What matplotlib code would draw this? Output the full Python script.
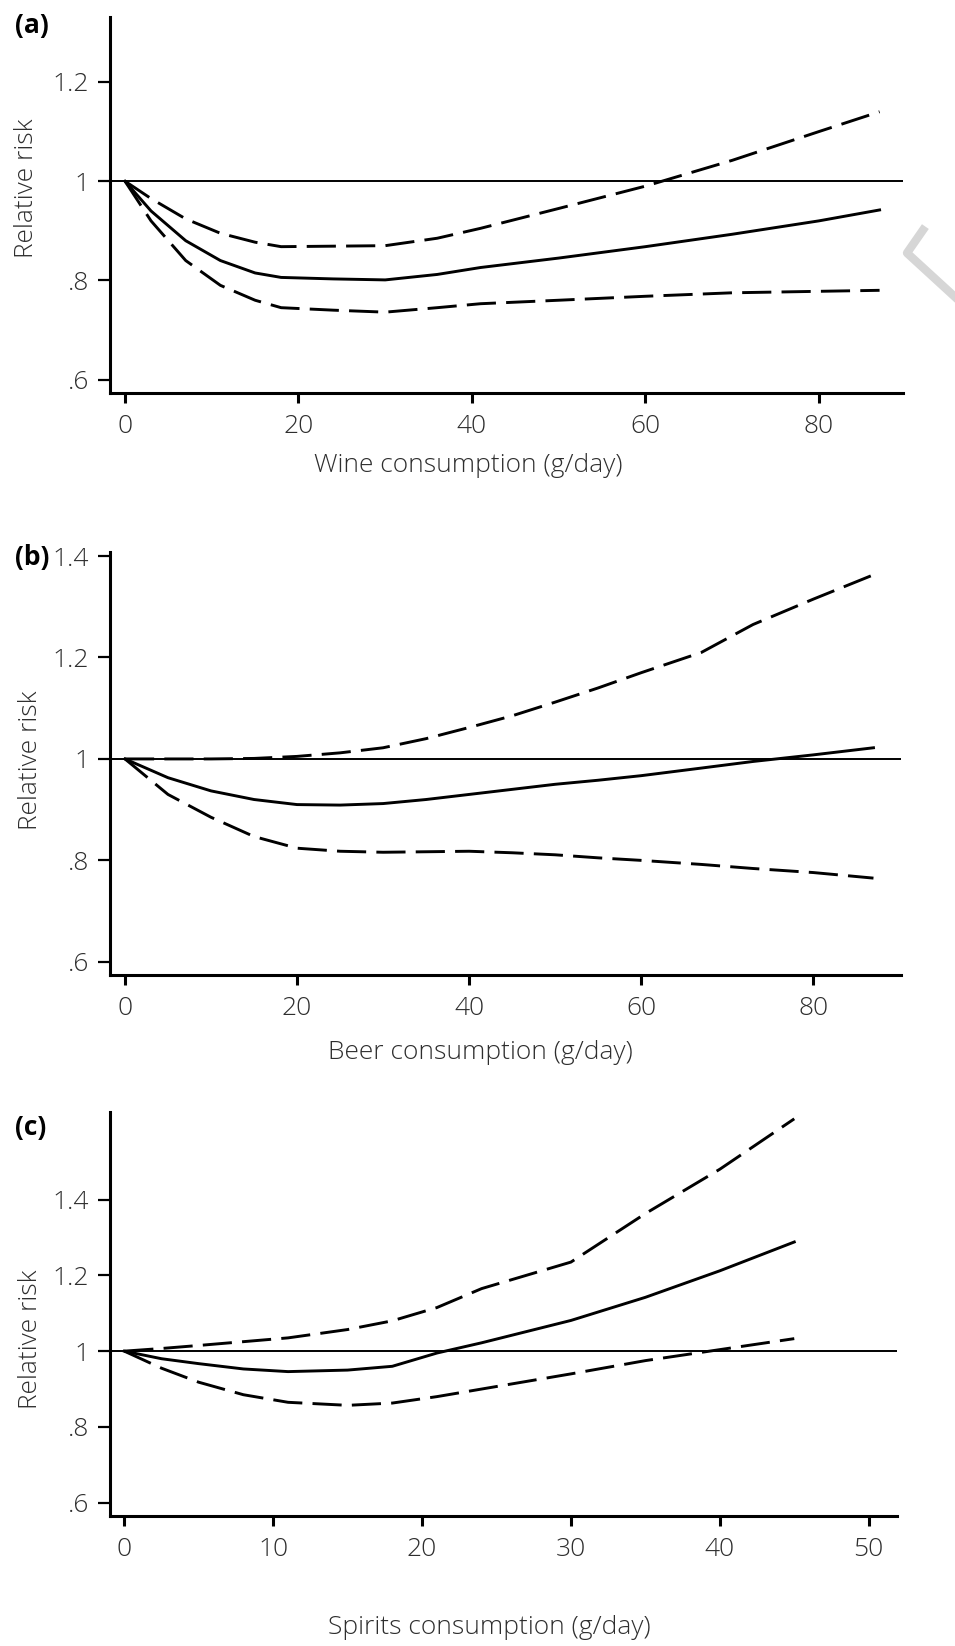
import numpy as np
import matplotlib
matplotlib.use('Agg')
import matplotlib.pyplot as plt
from matplotlib.lines import Line2D

plt.rcParams['font.family'] = ['Open Sans', 'DejaVu Sans']

# wine (g/day) and relative risk: estimate, upper and lower bound
wine_x = [0, 3, 7, 11, 15, 18, 24, 30, 36, 41, 50, 60, 70, 80, 87]
wine_rr = [1.0, 0.94, 0.88, 0.84, 0.815, 0.806, 0.803, 0.801, 0.812, 0.826,
           0.845, 0.868, 0.893, 0.92, 0.942]
wine_hi = [1.0, 0.965, 0.924, 0.895, 0.877, 0.868, 0.869, 0.870, 0.885, 0.905,
           0.945, 0.99, 1.042, 1.10, 1.14]
wine_lo = [1.0, 0.92, 0.84, 0.79, 0.76, 0.745, 0.74, 0.736, 0.745, 0.753,
           0.76, 0.768, 0.775, 0.778, 0.78]

# beer
beer_x = [0, 5, 10, 15, 20, 25, 30, 35, 40, 45, 50, 55, 60, 67, 73, 80, 87]
beer_rr = [1.0, 0.963, 0.937, 0.92, 0.91, 0.909, 0.912, 0.92, 0.93, 0.94,
           0.95, 0.958, 0.967, 0.982, 0.995, 1.008, 1.022]
beer_hi = [1.0, 1.0, 1.0, 1.001, 1.005, 1.012, 1.022, 1.04, 1.062, 1.085,
           1.112, 1.14, 1.17, 1.21, 1.265, 1.315, 1.363]
beer_lo = [1.0, 0.93, 0.885, 0.847, 0.824, 0.818, 0.816, 0.817, 0.818, 0.815,
           0.811, 0.805, 0.80, 0.792, 0.784, 0.776, 0.765]

# spirits
spir_x = [0, 2.5, 5, 8, 11, 15, 18, 21, 24, 30, 35, 40, 45]
spir_rr = [1.0, 0.98, 0.967, 0.953, 0.946, 0.95, 0.96, 0.995, 1.022, 1.081,
           1.142, 1.212, 1.288]
spir_hi = [1.0, 1.007, 1.015, 1.025, 1.035, 1.057, 1.08, 1.115, 1.165, 1.235,
           1.363, 1.48, 1.613]
spir_lo = [1.0, 0.955, 0.918, 0.885, 0.865, 0.857, 0.863, 0.88, 0.90, 0.94,
           0.975, 1.004, 1.033]

y_ticks = [0.6, 0.8, 1.0, 1.2, 1.4]
y_labels = ['.6', '.8', '1', '1.2', '1.4']

W, H = 955, 1646
TXT = '#2e2e2e'
FS = 19

fig = plt.figure(figsize=(W / 100, H / 100), dpi=100)


def px_axes(left, top, right, bottom):
    return fig.add_axes([left / W, 1 - bottom / H, (right - left) / W, (bottom - top) / H])


def panel(ax, x, rr, hi, lo, xlim, ylim, xticks, yticks, xlabel, xlab_pos, ylab_pos, tag, tag_y):
    ax.axhline(1.0, color='black', lw=1.4, zorder=1)
    ax.plot(x, rr, color='black', lw=2.1)
    for b in (hi, lo):
        ax.plot(x, b, color='black', lw=2.1, dashes=(10, 3.5))
    ax.set_xlim(*xlim)
    ax.set_ylim(*ylim)
    ax.set_xticks(xticks)
    ax.set_yticks(yticks)
    ax.set_yticklabels([y_labels[y_ticks.index(t)] for t in yticks])
    for s in ('top', 'right'):
        ax.spines[s].set_visible(False)
    for s in ('left', 'bottom'):
        ax.spines[s].set_linewidth(2.2)
    ax.tick_params(axis='y', length=9, width=1.6, pad=6, labelsize=FS, labelcolor=TXT)
    ax.tick_params(axis='x', length=7, width=2.2, pad=8, labelsize=FS, labelcolor=TXT)
    for lab in ax.get_xticklabels() + ax.get_yticklabels():
        lab.set_fontweight('light')
    ax.set_xlabel(xlabel, fontsize=FS, color=TXT, fontweight='light')
    ax.xaxis.set_label_coords(*xlab_pos)
    ax.set_ylabel('Relative risk', fontsize=FS, color=TXT, fontweight='light')
    ax.yaxis.set_label_coords(*ylab_pos)
    fig.text(15 / W, 1 - tag_y / H, tag, fontsize=FS, fontweight='bold',
             ha='left', va='center', color='black')


ax1 = px_axes(110, 17, 903, 393)
panel(ax1, wine_x, wine_rr, wine_hi, wine_lo, (-1.73, 89.7), (0.573, 1.331),
      [0, 20, 40, 60, 80], [0.6, 0.8, 1.0, 1.2], 'Wine consumption (g/day)',
      (0.4515, -0.16), (-0.0895, 0.545), '(a)', 25)

ax2 = px_axes(110, 552, 901, 975)
panel(ax2, beer_x, beer_rr, beer_hi, beer_lo, (-1.74, 90.2), (0.574, 1.408),
      [0, 20, 40, 60, 80], [0.6, 0.8, 1.0, 1.2, 1.4], 'Beer consumption (g/day)',
      (0.468, -0.154), (-0.085, 0.508), '(b)', 557)

ax3 = px_axes(110, 1112, 897, 1516)
panel(ax3, spir_x, spir_rr, spir_hi, spir_lo, (-0.96, 51.9), (0.565, 1.631),
      [0, 10, 20, 30, 40, 50], [0.6, 0.8, 1.0, 1.2, 1.4], 'Spirits consumption (g/day)',
      (0.4816, -0.245), (-0.085, 0.438), '(c)', 1128)

# faint grey chevron at the right edge
fig.add_artist(Line2D(np.array([923, 907, 955]) / W, 1 - np.array([230, 253, 297]) / H,
                      color='#d6d6d6', lw=6, transform=fig.transFigure))

fig.savefig('out.png', dpi=100)
